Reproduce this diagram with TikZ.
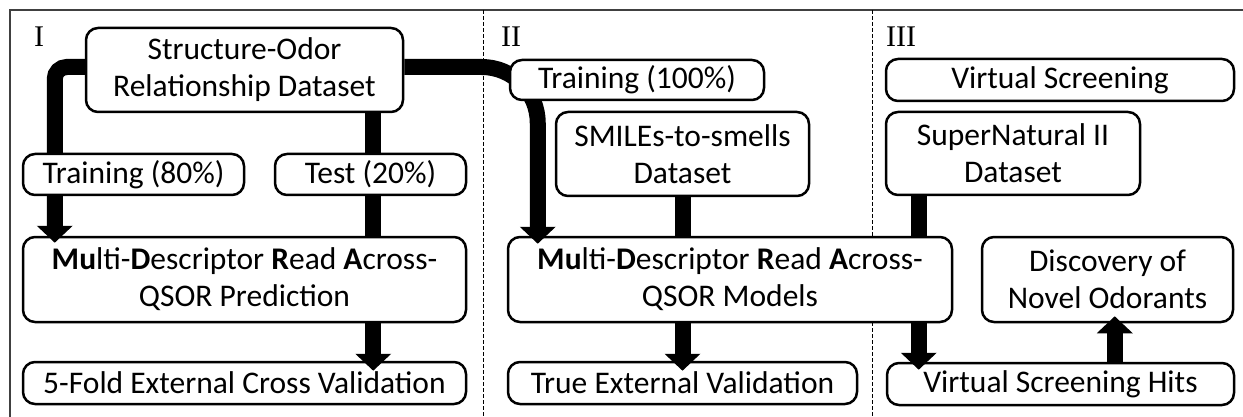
\documentclass[tikz,border=0pt]{standalone}
\usepackage{fontspec}
\setmainfont{Carlito}
\newfontfamily\numfont{Liberation Serif}
\usetikzlibrary{arrows.meta,calc}

\begin{document}
\begin{tikzpicture}[x=1pt,y=-1pt,
  box/.style={draw, line width=2.5pt, rounded corners=12pt, fill=white,
    inner sep=0pt, align=center, font=\fontsize{31.5}{37}\selectfont},
  shaft/.style={line width=16pt},
  flow/.style={line width=16pt, -{Triangle[width=35pt,length=17pt]}},
  roman/.style={anchor=base west, inner sep=0pt, font=\numfont\fontsize{30}{30}\selectfont},
  frame/.style={line width=1.6pt, black!75},
  divider/.style={line width=1pt, dash pattern=on 4pt off 2pt}]

\useasboundingbox (0,0) rectangle (1243,417);

% outer frame and panel dividers
\draw[frame] (1243,10) -- (10,10) -- (10,417);
\draw[divider] (483,10) -- (483,417);
\draw[divider] (872,10) -- (872,417);

% panel labels
\node[roman] (pI) at (34,47) {I};
\node[roman] (pII) at (501,47) {II};
\node[roman] (pIII) at (886,47) {III};

% panel III: screening hits and the line running behind the models box
\node[box, minimum width=347pt, minimum height=42pt] (hits) at (1060.5,384) {Virtual Screening Hits};
\node[box, minimum width=254pt, minimum height=83pt] (sn) at (1013,153.5) {SuperNatural II\\Dataset};
\draw[flow] ($(sn.south west)+(34,0)$) coordinate (s0) -- ($(s0 |- hits.north)+(0,8)$);

% main boxes
\node[box, minimum width=317pt, minimum height=84pt] (sord) at (244.5,70) {Structure-Odor\\Relationship Dataset};
\node[box, minimum width=443pt, minimum height=85pt] (mud1) at (244.5,279.5)
  {\textbf{Mu}lti-\textbf{D}escriptor \textbf{R}ead \textbf{A}cross-\\QSOR Prediction};
\node[box, minimum width=443pt, minimum height=42pt] (fold) at (244.5,383) {5-Fold External Cross Validation};
\node[box, minimum width=253pt, minimum height=84pt] (smi) at (682.5,154) {SMILEs-to-smells\\Dataset};
\node[box, minimum width=444pt, minimum height=85pt] (mud2) at (730,279.5)
  {\textbf{Mu}lti-\textbf{D}escriptor \textbf{R}ead \textbf{A}cross-\\QSOR Models};
\node[box, minimum width=349pt, minimum height=42pt] (tev) at (682.5,383) {True External Validation};
\node[box, minimum width=348pt, minimum height=42pt] (vs) at (1060,80) {Virtual Screening};
\node[box, minimum width=251pt, minimum height=85pt] (disc) at (1107.5,279.5) {Discovery of\\Novel Odorants};

% connectors
\draw[flow, rounded corners=12pt] ([yshift=3pt]sord.west) -| ($(mud1.north west)+(33,7)$);
\draw[shaft] ($(sord.south east)+(-31,0)$) coordinate (t0) -- (t0 |- mud1.north);
\draw[flow] (t0 |- mud1.south) -- ($(t0 |- fold.north)+(0,10)$);
\draw[flow, rounded corners=56pt] ([yshift=3pt]sord.east) -| ($(mud2.north west)+(31,8)$);
\draw[shaft] (smi.south) -- (smi.south |- mud2.north);
\draw[flow] (smi.south |- mud2.south) -- ($(smi.south |- tev.north)+(0,10)$);
\draw[flow] ($(hits.north west)+(229,0)$) coordinate (h0) -- ($(h0 |- disc.south)+(0,-7)$);

% split boxes lying over the connectors
\node[box, minimum width=221pt, minimum height=41pt] (tr80) at (133.5,174.5) {Training (80\%)};
\node[box, minimum width=191pt, minimum height=41pt] (te20) at (370.5,174.5) {Test (20\%)};
\node[box, minimum width=254pt, minimum height=40pt] (tr100) at (637,80) {Training (100\%)};
\end{tikzpicture}
\end{document}
